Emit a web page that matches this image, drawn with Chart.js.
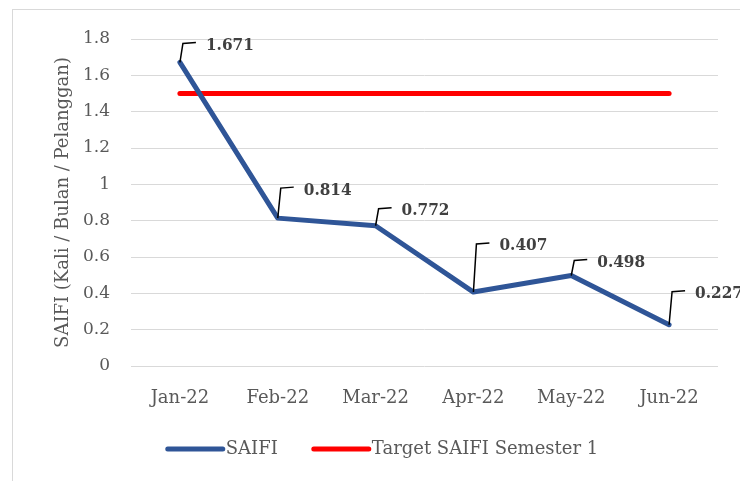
<!DOCTYPE html>
<html>
<head>
<meta charset="utf-8">
<script src="https://cdn.jsdelivr.net/npm/chart.js@4.4.0/dist/chart.umd.min.js"></script>
<style>
body { margin: 0; background: #fff; }
#wrap { position: relative; width: 740px; height: 481px; overflow: hidden; }
#frame { position: absolute; left: 12px; top: 9px; width: 800px; height: 520px; border-left: 1px solid #d9d9d9; border-top: 1px solid #d9d9d9; }
canvas { position: absolute; left: 0; top: 0; }
</style>
</head>
<body>
<div id="wrap"><div id="frame"></div><canvas id="myChart" width="740" height="481"></canvas></div>
<script>
const months = ["Jan-22", "Feb-22", "Mar-22", "Apr-22", "May-22", "Jun-22"];
const saifi = [1.671, 0.814, 0.772, 0.407, 0.498, 0.227];
const target = [1.5, 1.5, 1.5, 1.5, 1.5, 1.5];
const seriesNames = ["SAIFI", "Target SAIFI Semester 1"];

// how far each callout label sits above its point (px)
const calloutRise = [19, 30, 17, 48, 15, 33];

const fontName = '"DejaVu Serif", serif';
const labelFont = 'bold 17px "DejaVu Serif Condensed", "DejaVu Serif", serif';
const textGrey = '#595959';

const callouts = {
    id: 'callouts',
    afterDatasetsDraw(chart) {
        const ctx = chart.ctx;
        const meta = chart.getDatasetMeta(0);
        ctx.save();
        meta.data.forEach((pt, i) => {
            const top = pt.y - calloutRise[i];
            ctx.beginPath();
            ctx.moveTo(pt.x, pt.y);
            ctx.lineTo(pt.x + 3, top);
            ctx.lineTo(pt.x + 16, top - 1);
            ctx.strokeStyle = '#000';
            ctx.lineWidth = 1.5;
            ctx.stroke();
            ctx.font = labelFont;
            ctx.fillStyle = '#404040';
            ctx.textBaseline = 'middle';
            ctx.textAlign = 'left';
            ctx.fillText(saifi[i].toFixed(3), pt.x + 26, top + 2);
        });
        ctx.restore();
    }
};

// legend drawn by hand so the spacing matches
const bottomLegend = {
    id: 'bottomLegend',
    afterDraw(chart) {
        const ctx = chart.ctx;
        const y = 449;
        const lineLen = 55, gapText = 3, gapItem = 36;
        ctx.save();
        ctx.font = '18px ' + fontName;
        const widths = seriesNames.map(n => ctx.measureText(n).width);
        let total = 0;
        widths.forEach((w, i) => { total += lineLen + gapText + w + (i ? gapItem : 0); });
        let x = 383 - total / 2;
        chart.data.datasets.forEach((ds, i) => {
            ctx.beginPath();
            ctx.moveTo(x, y);
            ctx.lineTo(x + lineLen, y);
            ctx.strokeStyle = ds.borderColor;
            ctx.lineWidth = 5;
            ctx.lineCap = 'round';
            ctx.stroke();
            ctx.fillStyle = textGrey;
            ctx.textBaseline = 'middle';
            ctx.textAlign = 'left';
            ctx.fillText(seriesNames[i], x + lineLen + gapText, y);
            x += lineLen + gapText + widths[i] + gapItem;
        });
        ctx.restore();
    }
};

new Chart(document.getElementById('myChart'), {
    type: 'line',
    data: {
        labels: months,
        datasets: [{
            label: seriesNames[0],
            data: saifi,
            borderColor: '#2F5597',
            backgroundColor: '#2F5597',
            borderWidth: 5,
            pointRadius: 0,
            tension: 0,
            borderCapStyle: 'round',
            borderJoinStyle: 'round'
        }, {
            label: seriesNames[1],
            data: target,
            borderColor: '#FF0000',
            backgroundColor: '#FF0000',
            borderWidth: 5,
            pointRadius: 0,
            borderCapStyle: 'round'
        }]
    },
    options: {
        responsive: false,
        animation: false,
        layout: { padding: { left: 49, right: 22, top: 39, bottom: 50 } },
        plugins: {
            legend: { display: false },
            tooltip: { enabled: false }
        },
        scales: {
            x: {
                offset: true,
                grid: { display: false },
                border: { display: false },
                ticks: { color: textGrey, font: { family: fontName, size: 18 }, padding: 14 },
                afterFit(scale) { scale.height = 65; }
            },
            y: {
                min: 0,
                max: 1.8,
                grid: { color: '#d9d9d9', lineWidth: 1, drawTicks: false },
                border: { display: false },
                ticks: {
                    stepSize: 0.2,
                    color: textGrey,
                    font: { family: fontName, size: 17 },
                    padding: 21,
                    callback: v => String(Number(v.toFixed(1)))
                },
                title: {
                    display: true,
                    text: 'SAIFI (Kali / Bulan / Pelanggan)',
                    color: textGrey,
                    font: { family: fontName, size: 18 },
                    padding: { top: 4, bottom: 0 }
                },
                afterFit(scale) { scale.width = 82; }
            }
        }
    },
    plugins: [callouts, bottomLegend]
});
</script>
</body>
</html>
